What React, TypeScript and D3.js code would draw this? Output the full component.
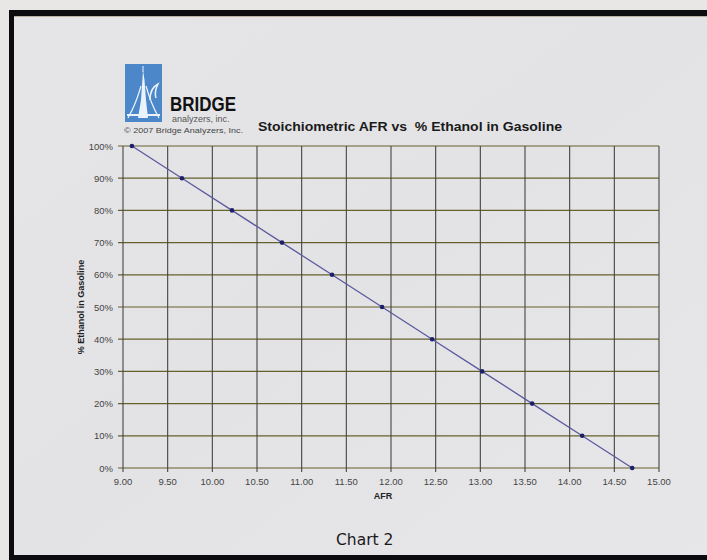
import React from "react";
import * as d3 from "d3";

const ethanolPct = [100, 90, 80, 70, 60, 50, 40, 30, 20, 10, 0];
const afrValues = [9.1, 9.66, 10.22, 10.78, 11.34, 11.9, 12.46, 13.02, 13.58, 14.14, 14.7];
const xTicks = [9, 9.5, 10, 10.5, 11, 11.5, 12, 12.5, 13, 13.5, 14, 14.5, 15];
const yTicks = [0, 10, 20, 30, 40, 50, 60, 70, 80, 90, 100];

export default function App() {
  const W = 707, H = 560;
  const x = d3.scaleLinear().domain([9, 15]).range([123, 659]);
  const y = d3.scaleLinear().domain([0, 100]).range([468, 146]);
  const pts = afrValues.map((a, i) => [a, ethanolPct[i]] as [number, number]);
  const line = d3.line<[number, number]>().x(d => x(d[0])).y(d => y(d[1]));
  const font = "Liberation Sans, Arial, sans-serif";
  return (
    <svg width={W} height={H} style={{ position: "absolute", left: 0, top: 0, display: "block" }}>
      <defs>
        <linearGradient id="bg" x1="0" y1="0" x2="1" y2="1">
          <stop offset="0" stopColor="#e5e5e8" />
          <stop offset="0.5" stopColor="#e3e3e6" />
          <stop offset="1" stopColor="#e7e6e8" />
        </linearGradient>
      </defs>
      <rect x={0} y={0} width={W} height={H} fill="#e8e7e5" />
      <rect x={9} y={10} width={W - 9} height={H - 10} fill="url(#bg)" />
      {/* frame */}
      <rect x={9} y={10} width={W - 9} height={6} fill="#0b0b10" />
      <rect x={9} y={10} width={5} height={H - 10} fill="#0b0b10" />
      <rect x={9} y={555} width={W - 9} height={5} fill="#0b0b10" />
      <line x1={14} y1={16.5} x2={W} y2={16.5} stroke="#8a8060" strokeWidth={1} opacity={0.5} />

      {/* logo */}
      <g>
        <rect x={125} y={64} width={37} height={58} fill="#4b87c9" />
        <path d="M143 70 L144.5 80 L146 100 L148 118 L138 118 L141 100 Z" fill="#eaf2fb" />
        <rect x={142.5} y={66} width={1} height={6} fill="#eaf2fb" />
        <path d="M128 118 Q136 104 141 86" fill="none" stroke="#eaf2fb" strokeWidth={1.2} />
        <path d="M159 118 Q151 104 146 86" fill="none" stroke="#eaf2fb" strokeWidth={1.2} />
        <path d="M150 100 Q150 88 158 84 Q154 92 156 98" fill="none" stroke="#eaf2fb" strokeWidth={1.5} />
        <rect x={127} y={114} width={33} height={2} fill="#eaf2fb" />
      </g>
      <text x={170} y={111} fontFamily={font} fontWeight="bold" fontSize={21} fill="#111" textLength={66} lengthAdjust="spacingAndGlyphs">BRIDGE</text>
      <text x={172} y={122} fontFamily={font} fontSize={9} fill="#555">analyzers, inc.</text>
      <text x={124} y={133} fontFamily={font} fontSize={7.5} fill="#444" textLength={119} lengthAdjust="spacingAndGlyphs">© 2007 Bridge Analyzers, Inc.</text>

      <text x={258} y={131} fontFamily={font} fontWeight="bold" fontSize={12.5} fill="#1a1a1a" textLength={304} lengthAdjust="spacingAndGlyphs" style={{ whiteSpace: "pre" }}>{"Stoichiometric AFR vs  % Ethanol in Gasoline"}</text>

      {/* grid */}
      {yTicks.map(t => (
        <g key={"y" + t}>
          <line x1={118} x2={x(15)} y1={y(t)} y2={y(t)} stroke="#66602c" strokeWidth={1.2} />
          <text x={113} y={y(t) + 3.5} textAnchor="end" fontFamily={font} fontSize={9.5} fill="#454545">{t + "%"}</text>
        </g>
      ))}
      {xTicks.map(t => (
        <g key={"x" + t}>
          <line x1={x(t)} x2={x(t)} y1={y(100)} y2={y(0) + 4} stroke="#444" strokeWidth={1.1} />
          <text x={x(t)} y={485} textAnchor="middle" fontFamily={font} fontSize={9.5} fill="#454545">{t.toFixed(2)}</text>
        </g>
      ))}

      <path d={line(pts) || ""} fill="none" stroke="#5a5a9e" strokeWidth={1.3} />
      {pts.map((p, i) => (
        <circle key={i} cx={x(p[0])} cy={y(p[1])} r={2.3} fill="#1c1f6a" />
      ))}

      <text x={383} y={499} textAnchor="middle" fontFamily={font} fontWeight="bold" fontSize={9} fill="#222">AFR</text>
      <text transform={`translate(84,307) rotate(-90)`} textAnchor="middle" fontFamily={font} fontWeight="bold" fontSize={9} fill="#222">% Ethanol in Gasoline</text>

      <text x={336} y={545} fontFamily="DejaVu Sans, sans-serif" fontSize={15.5} fill="#1a1a1a">Chart 2</text>
    </svg>
  );
}
